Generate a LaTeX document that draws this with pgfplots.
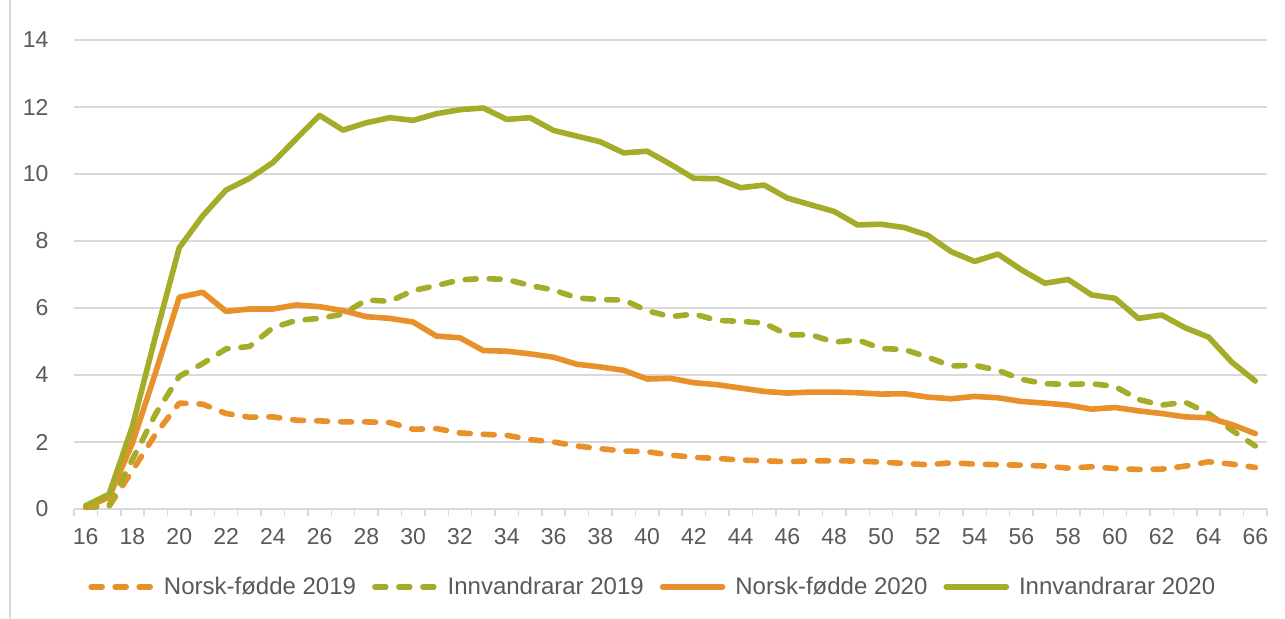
\documentclass[border=0pt]{standalone}
\usepackage{fontspec}
\setmainfont{Liberation Sans}
\usepackage{pgfplots}
\usepackage{pgfplotstable}
\pgfplotsset{compat=1.18}
\definecolor{orng}{HTML}{E8912A}
\definecolor{grn}{HTML}{A4AC2A}
\definecolor{txt}{HTML}{595959}
\definecolor{grd}{HTML}{D9D9D9}

% age, Norsk-fodde 2019, Innvandrarar 2019, Norsk-fodde 2020, Innvandrarar 2020
\pgfplotstableread{
age nf19 inn19 nf20 inn20
16 0.05 0.05 0.05 0.10
17 0.08 0.10 0.35 0.44
18 1.15 1.48 1.97 2.47
19 2.25 2.85 4.10 5.20
20 3.16 3.96 6.32 7.80
21 3.13 4.34 6.47 8.75
22 2.85 4.78 5.90 9.52
23 2.74 4.85 5.97 9.87
24 2.75 5.41 5.97 10.34
25 2.65 5.63 6.09 11.05
26 2.63 5.69 6.04 11.75
27 2.60 5.82 5.92 11.31
28 2.60 6.24 5.74 11.53
29 2.58 6.20 5.69 11.68
30 2.38 6.52 5.58 11.60
31 2.40 6.67 5.16 11.80
32 2.27 6.84 5.11 11.92
33 2.23 6.88 4.73 11.97
34 2.20 6.85 4.71 11.63
35 2.07 6.67 4.63 11.68
36 2.00 6.54 4.53 11.30
37 1.88 6.30 4.32 11.13
38 1.80 6.25 4.24 10.96
39 1.73 6.24 4.14 10.63
40 1.71 5.92 3.88 10.68
41 1.61 5.74 3.90 10.29
42 1.54 5.82 3.77 9.87
43 1.51 5.63 3.71 9.86
44 1.46 5.60 3.61 9.59
45 1.44 5.55 3.51 9.67
46 1.41 5.20 3.46 9.28
47 1.44 5.20 3.49 9.08
48 1.44 4.98 3.49 8.88
49 1.43 5.05 3.47 8.48
50 1.40 4.79 3.43 8.50
51 1.36 4.76 3.44 8.40
52 1.32 4.53 3.34 8.17
53 1.38 4.27 3.29 7.68
54 1.34 4.29 3.36 7.39
55 1.32 4.14 3.32 7.61
56 1.31 3.87 3.21 7.14
57 1.28 3.74 3.16 6.74
58 1.22 3.72 3.10 6.85
59 1.26 3.74 2.98 6.39
60 1.21 3.66 3.03 6.29
61 1.18 3.27 2.93 5.69
62 1.19 3.10 2.85 5.79
63 1.28 3.19 2.75 5.41
64 1.41 2.85 2.72 5.13
65 1.34 2.35 2.52 4.38
66 1.24 1.88 2.25 3.82
}\datatable

\tikzset{
  serie/.style={line width=2.8pt, line join=round, line cap=round},
  stiplet/.style={serie, dash pattern=on 5.5pt off 6.5pt}
}

\begin{document}
\begin{tikzpicture}
\path[use as bounding box] (0,0) rectangle (642.5pt,309.5pt);
\draw[grd, line width=0.75pt] (5pt,0) -- (5pt,309.5pt);
\begin{axis}[
  at={(37pt,55pt)}, anchor=south west,
  scale only axis, width=596.5pt, height=234.5pt,
  xmin=15.5, xmax=66.5, ymin=0, ymax=14,
  xtick={16,18,...,66}, ytick={0,2,...,14},
  minor xtick={15.5,16.5,...,66.5},
  axis x line*=bottom, axis y line*=left,
  y axis line style={draw=none},
  x axis line style={grd, line width=0.75pt},
  major tick style={draw=none},
  minor x tick style={grd, line width=0.75pt},
  minor tick length=3.5pt, tick align=outside,
  ymajorgrids, grid style={grd, line width=0.75pt},
  ticklabel style={font=\fontsize{11.5}{13}\selectfont, text=txt},
  /pgf/number format/assume math mode=true,
  yticklabel style={xshift=-5pt},
  xticklabel style={yshift=-2pt},
  clip=false,
  legend columns=4,
  legend style={draw=none, fill=none, at={(0.486,-0.166)}, anchor=center,
    font=\fontsize{12}{14}\selectfont, text=txt,
    /tikz/every odd column/.append style={column sep=3pt},
    /tikz/every even column/.append style={column sep=6pt}},
  legend image code/.code={\draw[#1] (0pt,0pt) -- (30pt,0pt);},
]
\addplot[orng, stiplet] table[x=age, y=nf19] {\datatable};
\addplot[grn, stiplet] table[x=age, y=inn19] {\datatable};
\addplot[orng, serie] table[x=age, y=nf20] {\datatable};
\addplot[grn, serie] table[x=age, y=inn20] {\datatable};
\legend{Norsk-fødde 2019, Innvandrarar 2019, Norsk-fødde 2020, Innvandrarar 2020}
\end{axis}
\end{tikzpicture}
\end{document}
